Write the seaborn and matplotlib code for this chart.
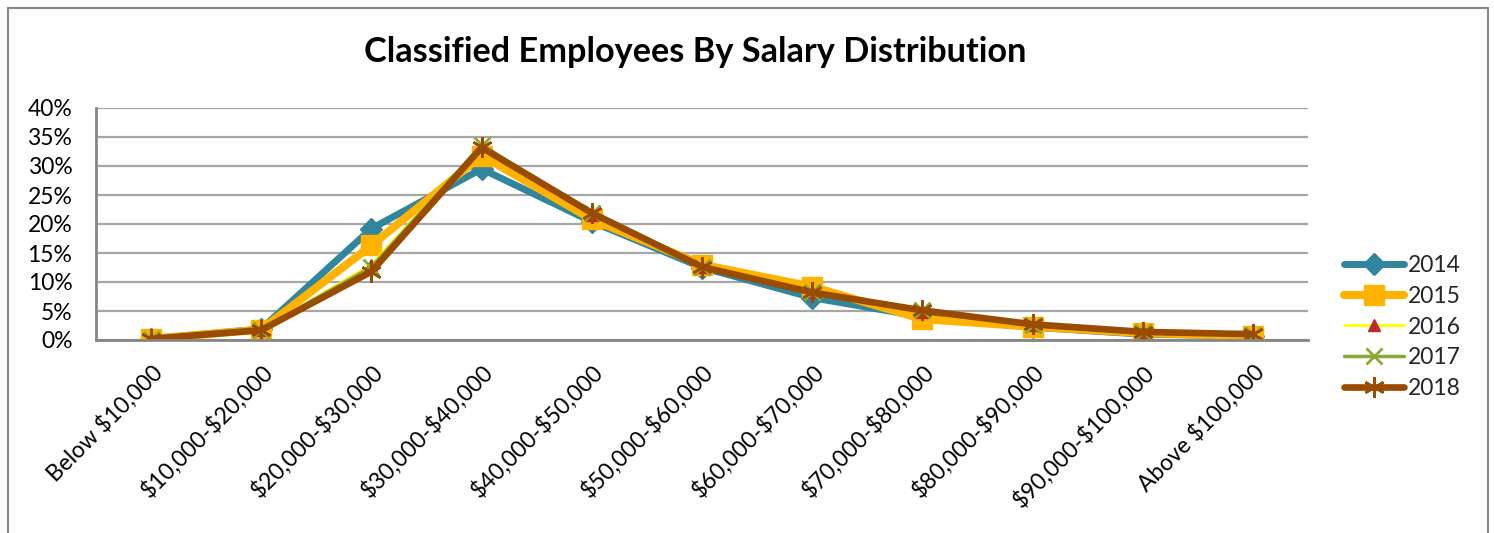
import matplotlib
matplotlib.use('Agg')
import matplotlib.pyplot as plt
import seaborn as sns
import numpy as np
from matplotlib.lines import Line2D

categories = ['Below $10,000', '$10,000-$20,000', '$20,000-$30,000', '$30,000-$40,000',
              '$40,000-$50,000', '$50,000-$60,000', '$60,000-$70,000', '$70,000-$80,000',
              '$80,000-$90,000', '$90,000-$100,000', 'Above $100,000']
years = ['2014', '2015', '2016', '2017', '2018']
v2014 = [0.2, 1.9, 19.2, 29.5, 20.4, 12.5, 7.3, 4.0, 2.2, 1.0, 0.7]
v2015 = [0.2, 1.8, 16.3, 31.8, 20.8, 13.0, 9.2, 3.6, 2.3, 1.2, 0.7]
v2016 = [0.2, 1.8, 13.0, 33.5, 21.6, 12.6, 8.2, 4.8, 2.6, 1.3, 0.8]
v2017 = [0.2, 1.8, 12.6, 33.6, 21.9, 12.6, 8.2, 5.1, 2.6, 1.4, 0.9]
v2018 = [0.2, 1.7, 11.8, 33.2, 21.9, 12.6, 8.2, 5.1, 2.7, 1.4, 1.0]
yticks = [0, 5, 10, 15, 20, 25, 30, 35, 40]

series = [v2014, v2015, v2016, v2017, v2018]
styles = [
    dict(color='#31859C', lw=5.0, marker='D', ms=11, mfc='#31859C', mec='#31859C', mew=1),
    dict(color='#FFB300', lw=5.8, marker='s', ms=14, mfc='#FFB300', mec='#FFB300', mew=1),
    dict(color='#FFFF00', lw=2.0, marker='^', ms=9, mfc='#C0282D', mec='#C0282D', mew=1),
    dict(color='#8BAA35', lw=2.5, marker='x', ms=12, mfc='#8BAA35', mec='#8BAA35', mew=2),
    dict(color='#994C00', lw=4.8, marker=(6, 2, 0), ms=15, mfc='#994C00', mec='#994C00', mew=1.8),
]

sns.set_theme(style='white')
plt.rcParams['font.family'] = ['Lato', 'DejaVu Sans']
plt.rcParams['text.parse_math'] = False

W, H = 1494, 533
fig = plt.figure(figsize=(W / 100, H / 100), dpi=100)
ax = fig.add_axes([96 / W, 1 - 340 / H, (1308 - 96) / W, (340 - 108) / H])

x = np.arange(len(categories))
for yr, vals, st in zip(years, series, styles):
    sns.lineplot(x=x, y=vals, ax=ax, sort=False, legend=False, label=yr,
                 solid_capstyle='round', solid_joinstyle='round', **st)

FS = 16.5
ax.set_xlim(-0.5, len(categories) - 0.5)
ax.set_ylim(0, 40)
ax.set_yticks(yticks)
ax.set_yticklabels([f'{t}%' for t in yticks])
ax.set_xticks(x)
ax.set_xticklabels(categories, rotation=45, ha='right', va='top', rotation_mode='anchor')
ax.tick_params(axis='y', length=0, pad=17, labelsize=FS, labelcolor='black')
ax.tick_params(axis='x', length=0, pad=15, labelsize=FS, labelcolor='black')
ax.set_xlabel('')
ax.set_ylabel('')
ax.yaxis.grid(True, color='#A6A6A6', lw=1.6)
ax.xaxis.grid(False)
ax.set_axisbelow(True)
for s in ['top', 'right']:
    ax.spines[s].set_visible(False)
for s in ['left', 'bottom']:
    ax.spines[s].set_color('#868686')
    ax.spines[s].set_linewidth(2)

handles = [Line2D([], [], **st) for st in styles]
fig.legend(handles, years, loc='center left', bbox_to_anchor=(1335 / W, 1 - 327 / H),
           frameon=False, fontsize=FS, handlelength=2.6, handletextpad=0.2,
           labelspacing=0.42, borderaxespad=0)

fig.text(695 / W, 1 - 52 / H, 'Classified Employees By Salary Distribution',
         ha='center', va='center', fontsize=24.7, fontweight='bold', color='black')

# outer chart frame
fc = '#868686'
fig.add_artist(Line2D([8 / W, 8 / W], [0, 1 - 8 / H], color=fc, lw=1.5, transform=fig.transFigure))
fig.add_artist(Line2D([8 / W, 1488 / W], [1 - 8 / H, 1 - 8 / H], color=fc, lw=1.5, transform=fig.transFigure))
fig.add_artist(Line2D([1488 / W, 1488 / W], [0, 1 - 8 / H], color=fc, lw=1.5, transform=fig.transFigure))

fig.savefig('out.png', dpi=100, facecolor='white')
